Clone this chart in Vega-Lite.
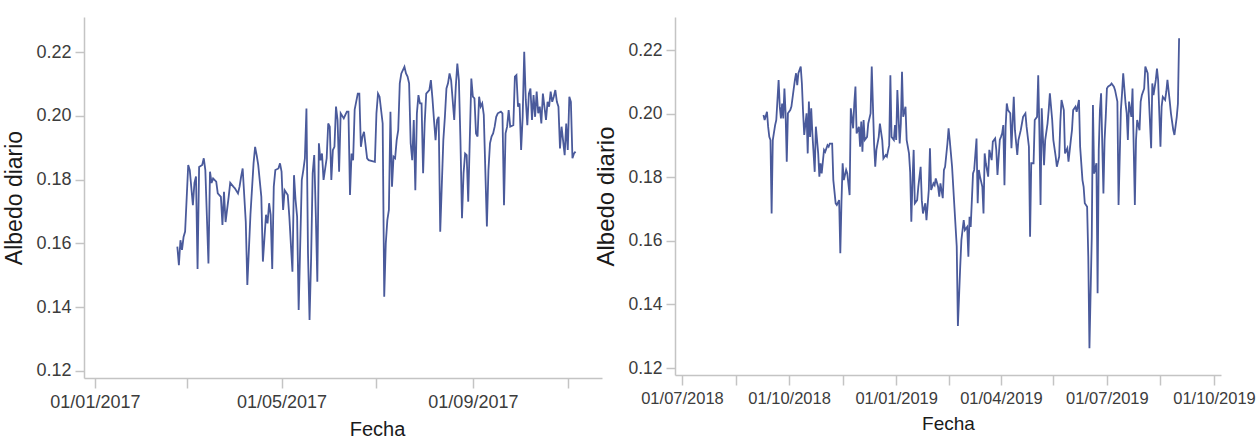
{
  "$schema": "https://vega.github.io/schema/vega-lite/v6.json",
  "padding": {"left": 3, "top": 17, "right": 0, "bottom": 0},
  "background": "white",
  "spacing": 73,
  "bounds": "flush",
  "config": {
    "view": {"stroke": null},
    "font": "Liberation Sans",
    "axis": {
      "domainColor": "#c4c4c4", "tickColor": "#c4c4c4", "domainWidth": 1.5, "tickWidth": 1.5,
      "labelColor": "#3c3c3c", "labelFont": "Liberation Sans", "labelFontSize": 18,
      "titleFont": "Liberation Sans", "titleFontWeight": "normal", "titleColor": "#1a1a1a",
      "grid": false, "labelFlush": false, "labelBound": false, "labelOverlap": false
    }
  },
  "datasets": {
    "izq": [
      {"fecha":"2017-02-23","albedo":0.159},{"fecha":"2017-02-24","albedo":0.1532},{"fecha":"2017-02-25","albedo":0.161},{"fecha":"2017-02-26","albedo":0.158},{"fecha":"2017-02-27","albedo":0.162},{"fecha":"2017-02-28","albedo":0.1637},
      {"fecha":"2017-03-02","albedo":0.1846},{"fecha":"2017-03-03","albedo":0.183},{"fecha":"2017-03-05","albedo":0.172},{"fecha":"2017-03-06","albedo":0.179},{"fecha":"2017-03-07","albedo":0.181},{"fecha":"2017-03-08","albedo":0.152},{"fecha":"2017-03-09","albedo":0.184},{"fecha":"2017-03-11","albedo":0.1846},{"fecha":"2017-03-12","albedo":0.1867},{"fecha":"2017-03-13","albedo":0.183},{"fecha":"2017-03-15","albedo":0.1537},{"fecha":"2017-03-16","albedo":0.1825},{"fecha":"2017-03-17","albedo":0.179},{"fecha":"2017-03-18","albedo":0.1804},{"fecha":"2017-03-20","albedo":0.1794},{"fecha":"2017-03-21","albedo":0.1757},{"fecha":"2017-03-23","albedo":0.1746},{"fecha":"2017-03-24","albedo":0.1658},{"fecha":"2017-03-25","albedo":0.1762},{"fecha":"2017-03-26","albedo":0.1667},{"fecha":"2017-03-28","albedo":0.1746},{"fecha":"2017-03-29","albedo":0.179},{"fecha":"2017-03-31","albedo":0.1778},
      {"fecha":"2017-04-01","albedo":0.1773},{"fecha":"2017-04-03","albedo":0.1757},{"fecha":"2017-04-04","albedo":0.1778},{"fecha":"2017-04-05","albedo":0.1809},{"fecha":"2017-04-06","albedo":0.1835},{"fecha":"2017-04-08","albedo":0.1667},{"fecha":"2017-04-09","albedo":0.147},{"fecha":"2017-04-11","albedo":0.169},{"fecha":"2017-04-13","albedo":0.1851},{"fecha":"2017-04-14","albedo":0.1903},{"fecha":"2017-04-15","albedo":0.1877},{"fecha":"2017-04-16","albedo":0.1846},{"fecha":"2017-04-18","albedo":0.1746},{"fecha":"2017-04-19","albedo":0.1543},{"fecha":"2017-04-21","albedo":0.169},{"fecha":"2017-04-22","albedo":0.1663},{"fecha":"2017-04-23","albedo":0.1726},{"fecha":"2017-04-24","albedo":0.169},{"fecha":"2017-04-25","albedo":0.152},{"fecha":"2017-04-26","albedo":0.1778},{"fecha":"2017-04-27","albedo":0.183},{"fecha":"2017-04-29","albedo":0.1835},{"fecha":"2017-04-30","albedo":0.1851},
      {"fecha":"2017-05-01","albedo":0.1825},{"fecha":"2017-05-02","albedo":0.1705},{"fecha":"2017-05-03","albedo":0.1767},{"fecha":"2017-05-05","albedo":0.1752},{"fecha":"2017-05-06","albedo":0.1684},{"fecha":"2017-05-08","albedo":0.1511},{"fecha":"2017-05-09","albedo":0.1814},{"fecha":"2017-05-10","albedo":0.1736},{"fecha":"2017-05-11","albedo":0.1684},{"fecha":"2017-05-12","albedo":0.1391},{"fecha":"2017-05-14","albedo":0.1799},{"fecha":"2017-05-15","albedo":0.183},{"fecha":"2017-05-16","albedo":0.1867},{"fecha":"2017-05-17","albedo":0.2023},{"fecha":"2017-05-18","albedo":0.1569},{"fecha":"2017-05-19","albedo":0.136},{"fecha":"2017-05-20","albedo":0.1553},{"fecha":"2017-05-21","albedo":0.182},{"fecha":"2017-05-22","albedo":0.1877},{"fecha":"2017-05-23","albedo":0.1694},{"fecha":"2017-05-24","albedo":0.148},{"fecha":"2017-05-25","albedo":0.1914},{"fecha":"2017-05-26","albedo":0.1861},{"fecha":"2017-05-27","albedo":0.1882},{"fecha":"2017-05-28","albedo":0.1799},{"fecha":"2017-05-30","albedo":0.1867},{"fecha":"2017-05-31","albedo":0.1976},
      {"fecha":"2017-06-01","albedo":0.1966},{"fecha":"2017-06-02","albedo":0.1799},{"fecha":"2017-06-03","albedo":0.1893},{"fecha":"2017-06-04","albedo":0.1903},{"fecha":"2017-06-05","albedo":0.2029},{"fecha":"2017-06-06","albedo":0.1987},{"fecha":"2017-06-07","albedo":0.1825},{"fecha":"2017-06-08","albedo":0.2008},{"fecha":"2017-06-10","albedo":0.1992},{"fecha":"2017-06-11","albedo":0.2003},{"fecha":"2017-06-12","albedo":0.2013},{"fecha":"2017-06-13","albedo":0.2013},{"fecha":"2017-06-14","albedo":0.1752},{"fecha":"2017-06-15","albedo":0.1882},{"fecha":"2017-06-16","albedo":0.1861},{"fecha":"2017-06-17","albedo":0.202},{"fecha":"2017-06-19","albedo":0.207},{"fecha":"2017-06-20","albedo":0.207},{"fecha":"2017-06-21","albedo":0.1903},{"fecha":"2017-06-22","albedo":0.1935},{"fecha":"2017-06-23","albedo":0.195},{"fecha":"2017-06-25","albedo":0.1867},{"fecha":"2017-06-26","albedo":0.1861},{"fecha":"2017-06-30","albedo":0.1856},
      {"fecha":"2017-07-01","albedo":0.2008},{"fecha":"2017-07-02","albedo":0.207},{"fecha":"2017-07-03","albedo":0.206},{"fecha":"2017-07-05","albedo":0.1976},{"fecha":"2017-07-06","albedo":0.1433},{"fecha":"2017-07-07","albedo":0.16},{"fecha":"2017-07-08","albedo":0.1673},{"fecha":"2017-07-09","albedo":0.1705},{"fecha":"2017-07-10","albedo":0.2013},{"fecha":"2017-07-11","albedo":0.1778},{"fecha":"2017-07-12","albedo":0.1872},{"fecha":"2017-07-13","albedo":0.1867},{"fecha":"2017-07-14","albedo":0.1924},{"fecha":"2017-07-15","albedo":0.1955},{"fecha":"2017-07-16","albedo":0.2102},{"fecha":"2017-07-17","albedo":0.2133},{"fecha":"2017-07-19","albedo":0.2154},{"fecha":"2017-07-20","albedo":0.2133},{"fecha":"2017-07-21","albedo":0.2123},{"fecha":"2017-07-22","albedo":0.2102},{"fecha":"2017-07-23","albedo":0.1914},{"fecha":"2017-07-24","albedo":0.1861},{"fecha":"2017-07-25","albedo":0.1987},{"fecha":"2017-07-26","albedo":0.1767},{"fecha":"2017-07-27","albedo":0.2008},{"fecha":"2017-07-28","albedo":0.2065},{"fecha":"2017-07-29","albedo":0.2039},{"fecha":"2017-07-30","albedo":0.2039},{"fecha":"2017-07-31","albedo":0.182},
      {"fecha":"2017-08-01","albedo":0.1976},{"fecha":"2017-08-02","albedo":0.207},{"fecha":"2017-08-04","albedo":0.2081},{"fecha":"2017-08-05","albedo":0.2112},{"fecha":"2017-08-06","albedo":0.2055},{"fecha":"2017-08-07","albedo":0.1987},{"fecha":"2017-08-08","albedo":0.1924},{"fecha":"2017-08-09","albedo":0.1987},{"fecha":"2017-08-10","albedo":0.1997},{"fecha":"2017-08-11","albedo":0.1637},{"fecha":"2017-08-13","albedo":0.1924},{"fecha":"2017-08-14","albedo":0.1997},{"fecha":"2017-08-15","albedo":0.2086},{"fecha":"2017-08-16","albedo":0.2102},{"fecha":"2017-08-17","albedo":0.2133},{"fecha":"2017-08-18","albedo":0.2112},{"fecha":"2017-08-20","albedo":0.1987},{"fecha":"2017-08-21","albedo":0.2091},{"fecha":"2017-08-22","albedo":0.2164},{"fecha":"2017-08-23","albedo":0.2112},{"fecha":"2017-08-24","albedo":0.1924},{"fecha":"2017-08-25","albedo":0.1679},{"fecha":"2017-08-26","albedo":0.182},{"fecha":"2017-08-27","albedo":0.1882},{"fecha":"2017-08-28","albedo":0.1877},{"fecha":"2017-08-29","albedo":0.1731},{"fecha":"2017-08-30","albedo":0.1924},{"fecha":"2017-08-31","albedo":0.2117},
      {"fecha":"2017-09-01","albedo":0.206},{"fecha":"2017-09-02","albedo":0.2055},{"fecha":"2017-09-03","albedo":0.1945},{"fecha":"2017-09-04","albedo":0.1935},{"fecha":"2017-09-05","albedo":0.206},{"fecha":"2017-09-06","albedo":0.2029},{"fecha":"2017-09-07","albedo":0.2039},{"fecha":"2017-09-08","albedo":0.2003},{"fecha":"2017-09-10","albedo":0.1653},{"fecha":"2017-09-11","albedo":0.183},{"fecha":"2017-09-12","albedo":0.1914},{"fecha":"2017-09-13","albedo":0.1935},{"fecha":"2017-09-14","albedo":0.1945},{"fecha":"2017-09-15","albedo":0.1966},{"fecha":"2017-09-16","albedo":0.1997},{"fecha":"2017-09-17","albedo":0.2008},{"fecha":"2017-09-19","albedo":0.2013},{"fecha":"2017-09-20","albedo":0.2008},{"fecha":"2017-09-21","albedo":0.172},{"fecha":"2017-09-22","albedo":0.1945},{"fecha":"2017-09-23","albedo":0.1966},{"fecha":"2017-09-24","albedo":0.2018},{"fecha":"2017-09-25","albedo":0.1966},{"fecha":"2017-09-27","albedo":0.1971},{"fecha":"2017-09-28","albedo":0.2123},{"fecha":"2017-09-29","albedo":0.2128},{"fecha":"2017-09-30","albedo":0.2029},
      {"fecha":"2017-10-01","albedo":0.2039},{"fecha":"2017-10-02","albedo":0.1893},{"fecha":"2017-10-03","albedo":0.1997},{"fecha":"2017-10-04","albedo":0.2201},{"fecha":"2017-10-05","albedo":0.205},{"fecha":"2017-10-06","albedo":0.1971},{"fecha":"2017-10-07","albedo":0.207},{"fecha":"2017-10-08","albedo":0.2086},{"fecha":"2017-10-09","albedo":0.1987},{"fecha":"2017-10-10","albedo":0.2065},{"fecha":"2017-10-11","albedo":0.1997},{"fecha":"2017-10-12","albedo":0.2076},{"fecha":"2017-10-13","albedo":0.2008},{"fecha":"2017-10-14","albedo":0.2029},{"fecha":"2017-10-15","albedo":0.1976},{"fecha":"2017-10-16","albedo":0.207},{"fecha":"2017-10-18","albedo":0.1987},{"fecha":"2017-10-19","albedo":0.2044},{"fecha":"2017-10-20","albedo":0.2029},{"fecha":"2017-10-21","albedo":0.2076},{"fecha":"2017-10-22","albedo":0.2044},{"fecha":"2017-10-23","albedo":0.206},{"fecha":"2017-10-24","albedo":0.2081},{"fecha":"2017-10-25","albedo":0.2044},{"fecha":"2017-10-26","albedo":0.2029},{"fecha":"2017-10-27","albedo":0.1898},{"fecha":"2017-10-28","albedo":0.1966},{"fecha":"2017-10-30","albedo":0.1877},{"fecha":"2017-10-31","albedo":0.1976},
      {"fecha":"2017-11-01","albedo":0.1893},{"fecha":"2017-11-02","albedo":0.206},{"fecha":"2017-11-03","albedo":0.2044},{"fecha":"2017-11-04","albedo":0.1867},{"fecha":"2017-11-05","albedo":0.1882},{"fecha":"2017-11-06","albedo":0.1888}
    ],
    "der": [
      {"fecha":"2018-09-09","albedo":0.1996},{"fecha":"2018-09-10","albedo":0.198},{"fecha":"2018-09-12","albedo":0.2006},{"fecha":"2018-09-13","albedo":0.1959},{"fecha":"2018-09-14","albedo":0.1927},{"fecha":"2018-09-15","albedo":0.1917},{"fecha":"2018-09-16","albedo":0.1686},{"fecha":"2018-09-17","albedo":0.1917},{"fecha":"2018-09-19","albedo":0.1964},{"fecha":"2018-09-20","albedo":0.198},{"fecha":"2018-09-22","albedo":0.2106},{"fecha":"2018-09-23","albedo":0.2022},{"fecha":"2018-09-24","albedo":0.1985},{"fecha":"2018-09-25","albedo":0.2032},{"fecha":"2018-09-26","albedo":0.1985},{"fecha":"2018-09-27","albedo":0.2079},{"fecha":"2018-09-28","albedo":0.2001},{"fecha":"2018-09-29","albedo":0.1849},{"fecha":"2018-09-30","albedo":0.2001},
      {"fecha":"2018-10-02","albedo":0.2011},{"fecha":"2018-10-03","albedo":0.2022},{"fecha":"2018-10-05","albedo":0.2079},{"fecha":"2018-10-06","albedo":0.2106},{"fecha":"2018-10-07","albedo":0.2127},{"fecha":"2018-10-08","albedo":0.209},{"fecha":"2018-10-09","albedo":0.2127},{"fecha":"2018-10-11","albedo":0.2148},{"fecha":"2018-10-12","albedo":0.2095},{"fecha":"2018-10-13","albedo":0.2006},{"fecha":"2018-10-14","albedo":0.1933},{"fecha":"2018-10-16","albedo":0.2001},{"fecha":"2018-10-17","albedo":0.1875},{"fecha":"2018-10-18","albedo":0.2038},{"fecha":"2018-10-19","albedo":0.1927},{"fecha":"2018-10-20","albedo":0.2017},{"fecha":"2018-10-21","albedo":0.1938},{"fecha":"2018-10-23","albedo":0.1817},{"fecha":"2018-10-24","albedo":0.1959},{"fecha":"2018-10-26","albedo":0.1875},{"fecha":"2018-10-27","albedo":0.1802},{"fecha":"2018-10-28","albedo":0.1844},{"fecha":"2018-10-29","albedo":0.1812},{"fecha":"2018-10-31","albedo":0.1886},
      {"fecha":"2018-11-01","albedo":0.188},{"fecha":"2018-11-03","albedo":0.1901},{"fecha":"2018-11-04","albedo":0.1896},{"fecha":"2018-11-05","albedo":0.1906},{"fecha":"2018-11-07","albedo":0.1906},{"fecha":"2018-11-08","albedo":0.1791},{"fecha":"2018-11-10","albedo":0.1718},{"fecha":"2018-11-11","albedo":0.1713},{"fecha":"2018-11-13","albedo":0.1728},{"fecha":"2018-11-14","albedo":0.1561},{"fecha":"2018-11-15","albedo":0.1723},{"fecha":"2018-11-16","albedo":0.1844},{"fecha":"2018-11-17","albedo":0.1791},{"fecha":"2018-11-19","albedo":0.1823},{"fecha":"2018-11-20","albedo":0.1812},{"fecha":"2018-11-22","albedo":0.1744},{"fecha":"2018-11-23","albedo":0.2017},{"fecha":"2018-11-25","albedo":0.1954},{"fecha":"2018-11-26","albedo":0.2032},{"fecha":"2018-11-27","albedo":0.2085},{"fecha":"2018-11-28","albedo":0.1938},{"fecha":"2018-11-30","albedo":0.1959},
      {"fecha":"2018-12-01","albedo":0.1896},{"fecha":"2018-12-02","albedo":0.1975},{"fecha":"2018-12-03","albedo":0.188},{"fecha":"2018-12-04","albedo":0.198},{"fecha":"2018-12-05","albedo":0.1917},{"fecha":"2018-12-07","albedo":0.1927},{"fecha":"2018-12-08","albedo":0.1969},{"fecha":"2018-12-10","albedo":0.2001},{"fecha":"2018-12-11","albedo":0.2148},{"fecha":"2018-12-13","albedo":0.1906},{"fecha":"2018-12-14","albedo":0.1833},{"fecha":"2018-12-15","albedo":0.1886},{"fecha":"2018-12-17","albedo":0.1927},{"fecha":"2018-12-18","albedo":0.1969},{"fecha":"2018-12-20","albedo":0.1917},{"fecha":"2018-12-21","albedo":0.1859},{"fecha":"2018-12-23","albedo":0.187},{"fecha":"2018-12-24","albedo":0.1865},{"fecha":"2018-12-26","albedo":0.1901},{"fecha":"2018-12-27","albedo":0.2121},{"fecha":"2018-12-28","albedo":0.1927},{"fecha":"2018-12-30","albedo":0.1917},{"fecha":"2018-12-31","albedo":0.1964},
      {"fecha":"2019-01-01","albedo":0.1917},{"fecha":"2019-01-02","albedo":0.2074},{"fecha":"2019-01-04","albedo":0.1906},{"fecha":"2019-01-05","albedo":0.1969},{"fecha":"2019-01-06","albedo":0.2132},{"fecha":"2019-01-07","albedo":0.199},{"fecha":"2019-01-09","albedo":0.2022},{"fecha":"2019-01-10","albedo":0.1917},{"fecha":"2019-01-12","albedo":0.1875},{"fecha":"2019-01-13","albedo":0.1817},{"fecha":"2019-01-14","albedo":0.166},{"fecha":"2019-01-15","albedo":0.1786},{"fecha":"2019-01-16","albedo":0.1886},{"fecha":"2019-01-17","albedo":0.1718},{"fecha":"2019-01-19","albedo":0.1728},{"fecha":"2019-01-20","albedo":0.177},{"fecha":"2019-01-22","albedo":0.1833},{"fecha":"2019-01-23","albedo":0.1728},{"fecha":"2019-01-24","albedo":0.1686},{"fecha":"2019-01-26","albedo":0.1718},{"fecha":"2019-01-27","albedo":0.1665},{"fecha":"2019-01-29","albedo":0.176},{"fecha":"2019-01-30","albedo":0.1891},{"fecha":"2019-01-31","albedo":0.176},
      {"fecha":"2019-02-02","albedo":0.1781},{"fecha":"2019-02-03","albedo":0.1775},{"fecha":"2019-02-04","albedo":0.1796},{"fecha":"2019-02-06","albedo":0.177},{"fecha":"2019-02-07","albedo":0.1739},{"fecha":"2019-02-08","albedo":0.1781},{"fecha":"2019-02-10","albedo":0.1734},{"fecha":"2019-02-11","albedo":0.1823},{"fecha":"2019-02-12","albedo":0.1833},{"fecha":"2019-02-14","albedo":0.1906},{"fecha":"2019-02-15","albedo":0.1954},{"fecha":"2019-02-16","albedo":0.1917},{"fecha":"2019-02-18","albedo":0.1833},{"fecha":"2019-02-20","albedo":0.1707},{"fecha":"2019-02-22","albedo":0.1582},{"fecha":"2019-02-23","albedo":0.1332},{"fecha":"2019-02-25","albedo":0.1519},{"fecha":"2019-02-26","albedo":0.1602},{"fecha":"2019-02-27","albedo":0.1634},{"fecha":"2019-02-28","albedo":0.1665},
      {"fecha":"2019-03-01","albedo":0.1634},{"fecha":"2019-03-03","albedo":0.1644},{"fecha":"2019-03-04","albedo":0.155},{"fecha":"2019-03-05","albedo":0.1676},{"fecha":"2019-03-06","albedo":0.1644},{"fecha":"2019-03-08","albedo":0.1812},{"fecha":"2019-03-09","albedo":0.1823},{"fecha":"2019-03-11","albedo":0.1922},{"fecha":"2019-03-12","albedo":0.1718},{"fecha":"2019-03-13","albedo":0.1823},{"fecha":"2019-03-14","albedo":0.1802},{"fecha":"2019-03-16","albedo":0.177},{"fecha":"2019-03-17","albedo":0.1686},{"fecha":"2019-03-18","albedo":0.1875},{"fecha":"2019-03-19","albedo":0.1844},{"fecha":"2019-03-21","albedo":0.1802},{"fecha":"2019-03-22","albedo":0.1886},{"fecha":"2019-03-24","albedo":0.1854},{"fecha":"2019-03-25","albedo":0.1912},{"fecha":"2019-03-27","albedo":0.1922},{"fecha":"2019-03-28","albedo":0.1886},{"fecha":"2019-03-29","albedo":0.1807},{"fecha":"2019-03-31","albedo":0.1917},
      {"fecha":"2019-04-01","albedo":0.1927},{"fecha":"2019-04-02","albedo":0.1938},{"fecha":"2019-04-03","albedo":0.1964},{"fecha":"2019-04-04","albedo":0.1775},{"fecha":"2019-04-05","albedo":0.1959},{"fecha":"2019-04-06","albedo":0.2032},{"fecha":"2019-04-07","albedo":0.2011},{"fecha":"2019-04-09","albedo":0.2001},{"fecha":"2019-04-10","albedo":0.1891},{"fecha":"2019-04-12","albedo":0.2053},{"fecha":"2019-04-13","albedo":0.1948},{"fecha":"2019-04-15","albedo":0.187},{"fecha":"2019-04-16","albedo":0.1917},{"fecha":"2019-04-18","albedo":0.1948},{"fecha":"2019-04-19","albedo":0.1969},{"fecha":"2019-04-20","albedo":0.199},{"fecha":"2019-04-22","albedo":0.2001},{"fecha":"2019-04-23","albedo":0.1959},{"fecha":"2019-04-25","albedo":0.1896},{"fecha":"2019-04-26","albedo":0.1613},{"fecha":"2019-04-27","albedo":0.1844},{"fecha":"2019-04-29","albedo":0.1844},{"fecha":"2019-04-30","albedo":0.198},
      {"fecha":"2019-05-02","albedo":0.199},{"fecha":"2019-05-03","albedo":0.2121},{"fecha":"2019-05-04","albedo":0.1948},{"fecha":"2019-05-05","albedo":0.1713},{"fecha":"2019-05-06","albedo":0.2017},{"fecha":"2019-05-08","albedo":0.1838},{"fecha":"2019-05-09","albedo":0.1917},{"fecha":"2019-05-11","albedo":0.1969},{"fecha":"2019-05-12","albedo":0.2011},{"fecha":"2019-05-13","albedo":0.2064},{"fecha":"2019-05-15","albedo":0.198},{"fecha":"2019-05-16","albedo":0.1917},{"fecha":"2019-05-18","albedo":0.1865},{"fecha":"2019-05-19","albedo":0.1833},{"fecha":"2019-05-21","albedo":0.1865},{"fecha":"2019-05-22","albedo":0.1975},{"fecha":"2019-05-23","albedo":0.2043},{"fecha":"2019-05-25","albedo":0.2011},{"fecha":"2019-05-26","albedo":0.1875},{"fecha":"2019-05-28","albedo":0.1891},{"fecha":"2019-05-29","albedo":0.1849},{"fecha":"2019-05-31","albedo":0.1917},
      {"fecha":"2019-06-01","albedo":0.1948},{"fecha":"2019-06-02","albedo":0.2011},{"fecha":"2019-06-04","albedo":0.2022},{"fecha":"2019-06-05","albedo":0.2006},{"fecha":"2019-06-07","albedo":0.2043},{"fecha":"2019-06-08","albedo":0.1896},{"fecha":"2019-06-10","albedo":0.1791},{"fecha":"2019-06-11","albedo":0.177},{"fecha":"2019-06-12","albedo":0.1718},{"fecha":"2019-06-14","albedo":0.1707},{"fecha":"2019-06-15","albedo":0.155},{"fecha":"2019-06-16","albedo":0.1262},{"fecha":"2019-06-18","albedo":0.1613},{"fecha":"2019-06-19","albedo":0.2027},{"fecha":"2019-06-20","albedo":0.1812},{"fecha":"2019-06-22","albedo":0.1844},{"fecha":"2019-06-23","albedo":0.1435},{"fecha":"2019-06-24","albedo":0.1886},{"fecha":"2019-06-25","albedo":0.2011},{"fecha":"2019-06-26","albedo":0.2064},{"fecha":"2019-06-28","albedo":0.1749},{"fecha":"2019-06-29","albedo":0.1917},{"fecha":"2019-06-30","albedo":0.199},
      {"fecha":"2019-07-01","albedo":0.2079},{"fecha":"2019-07-02","albedo":0.2085},{"fecha":"2019-07-04","albedo":0.209},{"fecha":"2019-07-05","albedo":0.2095},{"fecha":"2019-07-07","albedo":0.2085},{"fecha":"2019-07-08","albedo":0.2074},{"fecha":"2019-07-10","albedo":0.2038},{"fecha":"2019-07-11","albedo":0.1713},{"fecha":"2019-07-13","albedo":0.2011},{"fecha":"2019-07-14","albedo":0.2064},{"fecha":"2019-07-15","albedo":0.2127},{"fecha":"2019-07-17","albedo":0.2032},{"fecha":"2019-07-18","albedo":0.2001},{"fecha":"2019-07-19","albedo":0.1917},{"fecha":"2019-07-20","albedo":0.2038},{"fecha":"2019-07-22","albedo":0.199},{"fecha":"2019-07-23","albedo":0.2079},{"fecha":"2019-07-25","albedo":0.1713},{"fecha":"2019-07-26","albedo":0.1917},{"fecha":"2019-07-27","albedo":0.198},{"fecha":"2019-07-29","albedo":0.1948},{"fecha":"2019-07-30","albedo":0.2038},{"fecha":"2019-07-31","albedo":0.2058},
      {"fecha":"2019-08-02","albedo":0.2079},{"fecha":"2019-08-03","albedo":0.2148},{"fecha":"2019-08-05","albedo":0.2127},{"fecha":"2019-08-06","albedo":0.2053},{"fecha":"2019-08-08","albedo":0.1891},{"fecha":"2019-08-09","albedo":0.2095},{"fecha":"2019-08-10","albedo":0.2058},{"fecha":"2019-08-12","albedo":0.2106},{"fecha":"2019-08-13","albedo":0.2142},{"fecha":"2019-08-14","albedo":0.2106},{"fecha":"2019-08-16","albedo":0.1896},{"fecha":"2019-08-17","albedo":0.2022},{"fecha":"2019-08-18","albedo":0.2053},{"fecha":"2019-08-20","albedo":0.2043},{"fecha":"2019-08-21","albedo":0.2069},{"fecha":"2019-08-22","albedo":0.2106},{"fecha":"2019-08-24","albedo":0.2038},{"fecha":"2019-08-25","albedo":0.2001},{"fecha":"2019-08-27","albedo":0.1948},{"fecha":"2019-08-28","albedo":0.1933},{"fecha":"2019-08-30","albedo":0.199},{"fecha":"2019-08-31","albedo":0.2032},{"fecha":"2019-09-01","albedo":0.2237}
    ]
  },
  "hconcat": [
    {
      "width": 518,
      "height": 361,
      "data": {"name": "izq"},
      "mark": {"type": "line", "color": "#4a5a9b", "strokeWidth": 1.8},
      "encoding": {
        "x": {
          "field": "fecha", "type": "temporal",
          "scale": {"domain": [{"year": 2016, "month": 12, "date": 25}, {"year": 2017, "month": 11, "date": 23}]},
          "axis": {
            "title": "Fecha", "titleFontSize": 20, "titlePadding": 8, "titleX": 293,
            "tickSize": 10, "labelPadding": 5,
            "values": [
              {"year": 2017, "month": 1, "date": 1}, {"year": 2017, "month": 3, "date": 1},
              {"year": 2017, "month": 5, "date": 1}, {"year": 2017, "month": 7, "date": 1},
              {"year": 2017, "month": 9, "date": 1}, {"year": 2017, "month": 11, "date": 1}
            ],
            "labelExpr": "month(datum.value) % 4 == 0 ? timeFormat(datum.value, '%d/%m/%Y') : ''"
          }
        },
        "y": {
          "field": "albedo", "type": "quantitative",
          "scale": {"domain": [0.1178, 0.231], "nice": false, "zero": false},
          "axis": {
            "title": "Albedo diario", "titleFontSize": 23, "titlePadding": 9,
            "values": [0.12, 0.14, 0.16, 0.18, 0.2, 0.22], "format": ".2f",
            "tickSize": 9, "labelPadding": 4
          }
        }
      }
    },
    {
      "width": 546,
      "height": 358,
      "data": {"name": "der"},
      "mark": {"type": "line", "color": "#4a5a9b", "strokeWidth": 1.8},
      "encoding": {
        "x": {
          "field": "fecha", "type": "temporal",
          "scale": {"domain": [{"year": 2018, "month": 6, "date": 25}, {"year": 2019, "month": 10, "date": 7}]},
          "axis": {
            "title": "Fecha", "titleFontSize": 19, "titlePadding": 8,
            "tickSize": 10, "labelPadding": 5, "labelFontSize": 16.5,
            "values": [
              {"year": 2018, "month": 7, "date": 1}, {"year": 2018, "month": 8, "date": 16},
              {"year": 2018, "month": 10, "date": 1}, {"year": 2018, "month": 11, "date": 16},
              {"year": 2019, "month": 1, "date": 1}, {"year": 2019, "month": 2, "date": 15},
              {"year": 2019, "month": 4, "date": 1}, {"year": 2019, "month": 5, "date": 16},
              {"year": 2019, "month": 7, "date": 1}, {"year": 2019, "month": 8, "date": 16},
              {"year": 2019, "month": 10, "date": 1}
            ],
            "labelExpr": "date(datum.value) == 1 ? timeFormat(datum.value, '%d/%m/%Y') : ''"
          }
        },
        "y": {
          "field": "albedo", "type": "quantitative",
          "scale": {"domain": [0.1178, 0.2304], "nice": false, "zero": false},
          "axis": {
            "title": "Albedo diario", "titleFontSize": 24, "titlePadding": 9,
            "values": [0.12, 0.14, 0.16, 0.18, 0.2, 0.22], "format": ".2f",
            "tickSize": 9, "labelPadding": 4, "labelFontSize": 17.5
          }
        }
      }
    }
  ]
}
